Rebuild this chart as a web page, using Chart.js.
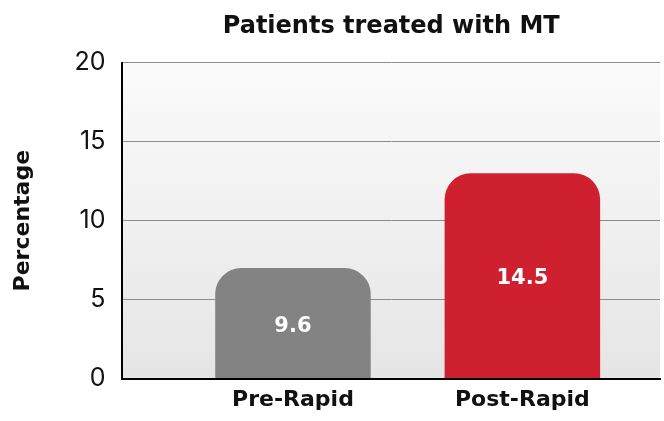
<!DOCTYPE html>
<html>
<head>
<meta charset="utf-8">
<script src="https://cdn.jsdelivr.net/npm/chart.js@4"></script>
<style>
  html, body { margin: 0; padding: 0; background: #fff; }
  #wrap { width: 664px; height: 421px; }
</style>
</head>
<body>
<div id="wrap"><canvas id="mtChart"></canvas></div>
<script>
/* ---------- data ---------- */
var categories = ["Pre-Rapid", "Post-Rapid"];
var xPos = [0, 1];
var barHeights = [7, 13];          // drawn bar heights
var barLabels = ["9.6", "14.5"];   // values printed inside the bars
var barColors = ["#838383", "#cf202f"];
var yTicks = [0, 5, 10, 15, 20];

var BOLD = "'DejaVu Sans', sans-serif";
var REG = "Inter, 'Open Sans', sans-serif";

/* soft grey gradient behind the plot */
var plotBg = {
  id: "plotBg",
  beforeDraw: function (chart) {
    var a = chart.chartArea, ctx = chart.ctx;
    var g = ctx.createLinearGradient(0, a.top, 0, a.bottom);
    g.addColorStop(0, "#fbfbfb");
    g.addColorStop(1, "#e5e5e5");
    ctx.save();
    ctx.fillStyle = g;
    ctx.fillRect(a.left, a.top, a.right - a.left, a.bottom - a.top);
    ctx.restore();
  }
};

/* white labels in the middle of each bar */
var barText = {
  id: "barText",
  afterDatasetsDraw: function (chart) {
    var ctx = chart.ctx;
    var meta = chart.getDatasetMeta(0);
    ctx.save();
    ctx.fillStyle = "#ffffff";
    ctx.font = "bold 21px " + BOLD;
    ctx.textAlign = "center";
    ctx.textBaseline = "middle";
    meta.data.forEach(function (bar, i) {
      ctx.fillText(barLabels[i], bar.x, (bar.y + bar.base) / 2 + 3);
    });
    ctx.restore();
  }
};

new Chart("mtChart", {
  type: "bar",
  data: {
    datasets: [{
      data: xPos.map(function (x, i) { return { x: x, y: barHeights[i] }; }),
      backgroundColor: barColors,
      borderRadius: { topLeft: 26, topRight: 26, bottomLeft: 0, bottomRight: 0 },
      borderSkipped: "start",
      barPercentage: 0.678,
      categoryPercentage: 1
    }]
  },
  plugins: [plotBg, barText],
  options: {
    responsive: true,
    maintainAspectRatio: false,
    animation: false,
    layout: { padding: { left: 10, right: 4, top: 5, bottom: 0 } },
    plugins: {
      legend: { display: false },
      tooltip: { enabled: false },
      title: {
        display: true,
        text: "Patients treated with MT",
        fullSize: false,
        color: "#111",
        font: { family: BOLD, size: 24, weight: "bold" },
        padding: { top: 7, bottom: 22 }
      }
    },
    scales: {
      x: {
        type: "linear",
        offset: false,
        min: -0.7435,
        max: 1.6,
        afterBuildTicks: function (scale) {
          scale.ticks = xPos.map(function (v) { return { value: v }; });
        },
        ticks: {
          autoSkip: false,
          maxRotation: 0,
          padding: 8,
          color: "#111",
          font: { family: BOLD, size: 22, weight: "bold" },
          callback: function (v) { return categories[v]; }
        },
        grid: { display: false, drawTicks: false, offset: false },
        border: { color: "#000", width: 2 }
      },
      y: {
        min: 0,
        max: 20,
        afterBuildTicks: function (scale) {
          scale.ticks = yTicks.map(function (v) { return { value: v }; });
        },
        ticks: {
          padding: 17,
          color: "#111",
          font: { family: REG, size: 25 }
        },
        grid: { color: "#8c8c8c", lineWidth: 1, drawTicks: false },
        border: { color: "#000", width: 2 },
        title: {
          display: true,
          text: "Percentage",
          color: "#111",
          font: { family: BOLD, size: 22, weight: "bold" },
          padding: { top: 0, bottom: 21 }
        }
      }
    }
  }
});
</script>
</body>
</html>
